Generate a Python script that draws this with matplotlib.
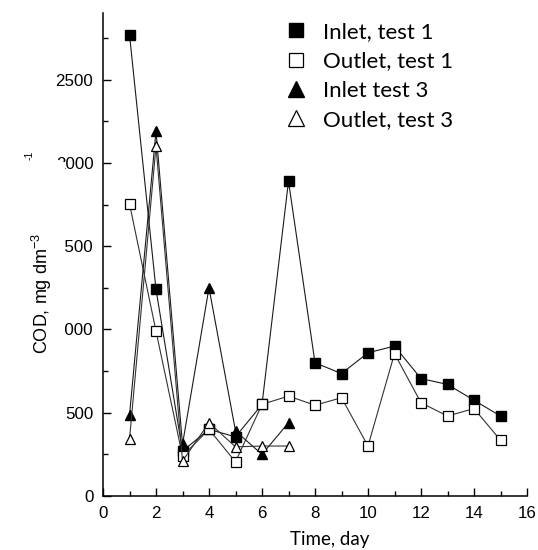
import numpy as np
import matplotlib
matplotlib.use('Agg')
import matplotlib.pyplot as plt
from matplotlib.patches import Rectangle
from matplotlib.ticker import MultipleLocator

plt.rcParams['font.family'] = ['Liberation Sans', 'DejaVu Sans']
plt.rcParams['mathtext.fontset'] = 'custom'
plt.rcParams['mathtext.rm'] = 'Liberation Sans'
plt.rcParams['mathtext.default'] = 'regular'

# 数据
days_1 = [1, 2, 3, 4, 5, 6, 7, 8, 9, 10, 11, 12, 13, 14, 15]
inlet_1 = [2770, 1240, 270, 400, 355, 550, 1890, 800, 735, 860, 900, 705, 670, 575, 480]
outlet_1 = [1755, 990, 240, 400, 205, 550, 600, 545, 590, 300, 855, 560, 480, 525, 335]

days_3 = [1, 2, 3, 4, 5, 6, 7]
inlet_3 = [485, 2190, 310, 1250, 390, 250, 440]
outlet_3 = [340, 2100, 210, 440, 295, 300, 300]

labels = ['Inlet, test 1', 'Outlet, test 1', 'Inlet test 3', 'Outlet, test 3']

W, H = 538, 550
fig = plt.figure(figsize=(W / 100, H / 100), dpi=100)
ax = fig.add_axes([103 / W, 1 - 496 / H, 424 / W, 483 / H])

lc = '#1a1a1a'
ms = 6.5
ax.plot(days_1, inlet_1, color=lc, lw=0.8, marker='s', ms=ms, mfc='black', mec='black', label=labels[0])
ax.plot(days_1, outlet_1, color='#333333', lw=0.8, marker='s', ms=ms, mfc='white', mec='black', mew=0.9, label=labels[1])
ax.plot(days_3, inlet_3, color=lc, lw=0.8, marker='^', ms=ms + 1, mfc='black', mec='black', label=labels[2])
ax.plot(days_3, outlet_3, color='#333333', lw=0.8, marker='^', ms=ms + 1, mfc='white', mec='black', mew=0.9, label=labels[3])

ax.set_xlim(0, 16)
ax.set_ylim(0, 2900)
ax.xaxis.set_major_locator(MultipleLocator(2))
ax.xaxis.set_minor_locator(MultipleLocator(1))
ax.yaxis.set_major_locator(MultipleLocator(500))
ax.yaxis.set_minor_locator(MultipleLocator(250))
ax.tick_params(which='both', direction='in', width=1.0, labelsize=12.2, pad=7)
ax.tick_params(which='major', length=6)
ax.tick_params(which='minor', length=3.3)
ax.spines['top'].set_visible(False)
ax.spines['right'].set_visible(False)
for s in ['left', 'bottom']:
    ax.spines[s].set_linewidth(1.1)

leg = ax.legend(loc='upper left', bbox_to_anchor=(263 / W, 1 - 2 / H), bbox_transform=fig.transFigure,
                frameon=False, markerscale=1.5, handlelength=1.2, handletextpad=0.6,
                labelspacing=0.42, prop={'family': 'Lato', 'size': 16})
for h in leg.legend_handles:
    h.set_linestyle('None')

fig.text(330 / W, 1 - 540 / H, 'Time, day', family='Lato', fontsize=13.5, ha='center', va='center')

# 白色方框盖住部分刻度标签（原图如此）
fig.patches.append(Rectangle((25 / W, 1 - 395 / H), 40 / W, 233 / H, transform=fig.transFigure,
                             facecolor='white', edgecolor='none', zorder=1))
fig.text(42 / W, 1 - 293 / H, 'COD, mg dm$^{-3}$', rotation=90, fontsize=13, ha='center', va='center', zorder=3)
fig.text(30 / W, 1 - 155 / H, '-1', rotation=90, fontsize=7.5, ha='center', va='center', zorder=3)

fig.savefig('out.png', dpi=100)
